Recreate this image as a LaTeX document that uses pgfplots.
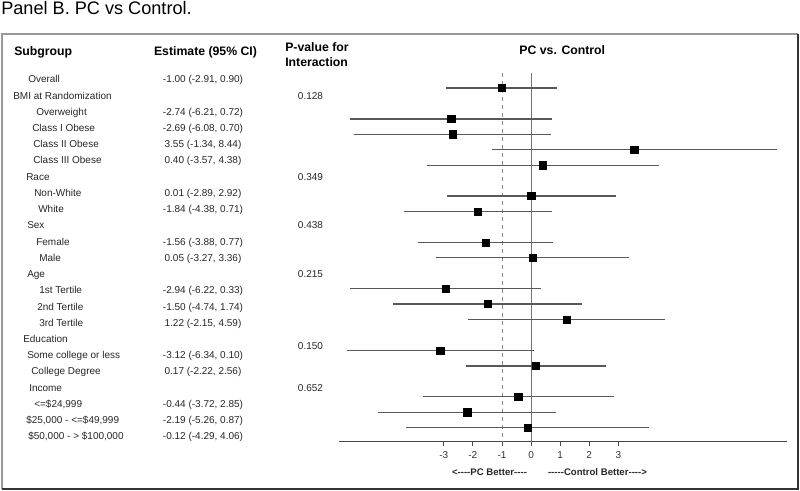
\documentclass[border=0pt]{standalone}
\usepackage{fontspec}
\setmainfont{Liberation Sans}[Ligatures=TeXOff]
\usepackage{pgfplots}
\usepackage{pgfplotstable}
\pgfplotsset{compat=1.18}

% row = minus the line number in the table (0 = Overall)
\pgfplotstableread{
row est lo hi
0   -1.00 -2.91 0.90
-2  -2.74 -6.21 0.72
-3  -2.69 -6.08 0.70
-4   3.55 -1.34 8.44
-5   0.40 -3.57 4.38
-7   0.01 -2.89 2.92
-8  -1.84 -4.38 0.71
-10 -1.56 -3.88 0.77
-11  0.05 -3.27 3.36
-13 -2.94 -6.22 0.33
-14 -1.50 -4.74 1.74
-15  1.22 -2.15 4.59
-17 -3.12 -6.34 0.10
-18  0.17 -2.22 2.56
-20 -0.44 -3.72 2.85
-21 -2.19 -5.26 0.87
-22 -0.12 -4.29 4.06
}\forest

\newcommand\ty[1]{79.3+16.23*#1}
\newcommand\tab{\fontsize{7.5pt}{9pt}\selectfont}
\newcommand\hdr{\fontsize{9.2pt}{11pt}\selectfont\bfseries}

\begin{document}
\begin{tikzpicture}
\begin{axis}[
    at={(254.25pt,-54.75pt)}, anchor=north west,
    x=21.825pt, y=11.58pt,
    xmin=-6.6, xmax=8.8, ymin=-22.9, ymax=0.97,
    axis x line*=bottom, axis y line=none,
    x axis line style={-, black!72, line width=0.8pt},
    xtick={-3,-2,-1,0,1,2,3},
    xticklabels={-3,-2,-1,0,1,2,3},
    ytick=\empty,
    tick style={black!70, line width=0.6pt},
    tick align=outside, major tick length=3pt,
    xticklabel style={font=\tab, text=black!80, yshift=-1.2pt},
    clip=false,
]
\addplot[black!55, line width=0.75pt] coordinates {(0,0.97) (0,-22.9)};
\addplot[black!45, line width=0.6pt, dash pattern=on 3pt off 3pt] coordinates {(-1,0.97) (-1,-22.9)};

\addplot[only marks, mark=none,
    error bars/.cd, x dir=both, x explicit, error mark=none,
    error bar style={black!65, line width=1pt}]
  table[x=est, y=row,
    x error plus expr={\thisrow{hi}-\thisrow{est}},
    x error minus expr={\thisrow{est}-\thisrow{lo}}] {\forest};

\addplot[only marks, mark=square*, mark size=2.7pt, black] table[x=est, y=row] {\forest};
\end{axis}

\begin{scope}[x=0.75pt, y=-0.75pt, inner sep=0pt, text=black!85]
\path (0,0) rectangle (800,490);

% frame
\draw[black!40, line width=1.1pt] (2,489) -- (2,34) -- (798,34);
\draw[black!80, line width=1.2pt] (798,34) -- (798,489) -- (2,489);

\node[anchor=mid west, font=\fontsize{13.6pt}{16pt}\selectfont, text=black] at (1,10.5) {Panel B. PC vs Control.};

% headers
\node[anchor=mid west, font=\hdr, text=black] at (14,52) {Subgroup};
\node[anchor=mid, font=\hdr, text=black] at (205.5,52) {Estimate (95\% CI)};
\node[anchor=mid west, font=\hdr, text=black] at (285,48) {P-value for};
\node[anchor=mid west, font=\hdr, text=black] at (285,63) {Interaction};
\node[anchor=mid, font=\hdr, text=black] at (562.3,51) {PC vs. Control};

% subgroup labels
\begin{scope}[font=\tab]
\node[anchor=mid west] at (28,{\ty{0}}) {Overall};
\node[anchor=mid west] at (13,{\ty{1}}) {BMI at Randomization};
\node[anchor=mid west] at (36,{\ty{2}}) {Overweight};
\node[anchor=mid west] at (32,{\ty{3}}) {Class I Obese};
\node[anchor=mid west] at (33,{\ty{4}}) {Class II Obese};
\node[anchor=mid west] at (33,{\ty{5}}) {Class III Obese};
\node[anchor=mid west] at (26,{\ty{6}}) {Race};
\node[anchor=mid west] at (34,{\ty{7}}) {Non-White};
\node[anchor=mid west] at (38,{\ty{8}}) {White};
\node[anchor=mid west] at (27,{\ty{9}}) {Sex};
\node[anchor=mid west] at (36,{\ty{10}}) {Female};
\node[anchor=mid west] at (39,{\ty{11}}) {Male};
\node[anchor=mid west] at (27,{\ty{12}}) {Age};
\node[anchor=mid west] at (39,{\ty{13}}) {1st Tertile};
\node[anchor=mid west] at (37,{\ty{14}}) {2nd Tertile};
\node[anchor=mid west] at (39,{\ty{15}}) {3rd Tertile};
\node[anchor=mid west] at (23,{\ty{16}}) {Education};
\node[anchor=mid west] at (27,{\ty{17}}) {Some college or less};
\node[anchor=mid west] at (31,{\ty{18}}) {College Degree};
\node[anchor=mid west] at (29,{\ty{19}}) {Income};
\node[anchor=mid west] at (34,{\ty{20}}) {<=\$24,999};
\node[anchor=mid west] at (26,{\ty{21}}) {\$25,000 - <=\$49,999};
\node[anchor=mid west] at (28,{\ty{22}}) {\$50,000 - > \$100,000};

% estimates
\node[anchor=mid] at (203,{\ty{0}}) {-1.00 (-2.91, 0.90)};
\node[anchor=mid] at (203,{\ty{2}}) {-2.74 (-6.21, 0.72)};
\node[anchor=mid] at (203,{\ty{3}}) {-2.69 (-6.08, 0.70)};
\node[anchor=mid] at (203,{\ty{4}}) {3.55 (-1.34, 8.44)};
\node[anchor=mid] at (203,{\ty{5}}) {0.40 (-3.57, 4.38)};
\node[anchor=mid] at (203,{\ty{7}}) {0.01 (-2.89, 2.92)};
\node[anchor=mid] at (203,{\ty{8}}) {-1.84 (-4.38, 0.71)};
\node[anchor=mid] at (203,{\ty{10}}) {-1.56 (-3.88, 0.77)};
\node[anchor=mid] at (203,{\ty{11}}) {0.05 (-3.27, 3.36)};
\node[anchor=mid] at (203,{\ty{13}}) {-2.94 (-6.22, 0.33)};
\node[anchor=mid] at (203,{\ty{14}}) {-1.50 (-4.74, 1.74)};
\node[anchor=mid] at (203,{\ty{15}}) {1.22 (-2.15, 4.59)};
\node[anchor=mid] at (203,{\ty{17}}) {-3.12 (-6.34, 0.10)};
\node[anchor=mid] at (203,{\ty{18}}) {0.17 (-2.22, 2.56)};
\node[anchor=mid] at (203,{\ty{20}}) {-0.44 (-3.72, 2.85)};
\node[anchor=mid] at (203,{\ty{21}}) {-2.19 (-5.26, 0.87)};
\node[anchor=mid] at (203,{\ty{22}}) {-0.12 (-4.29, 4.06)};

% p-values for interaction
\node[anchor=mid] at (310.5,{\ty{1}}) {0.128};
\node[anchor=mid] at (310.5,{\ty{6}}) {0.349};
\node[anchor=mid] at (310.5,{\ty{9}}) {0.438};
\node[anchor=mid] at (310.5,{\ty{12}}) {0.215};
\node[anchor=mid] at (310.5,346) {0.150};
\node[anchor=mid] at (310.5,{\ty{19}}) {0.652};
\end{scope}

\node[anchor=mid, font=\fontsize{7.2pt}{9pt}\selectfont\bfseries] at (489.5,471.5) {<----PC Better----};
\node[anchor=mid, font=\fontsize{7.2pt}{9pt}\selectfont\bfseries] at (597.5,471.5) {-----Control Better---->};
\end{scope}
\end{tikzpicture}
\end{document}
